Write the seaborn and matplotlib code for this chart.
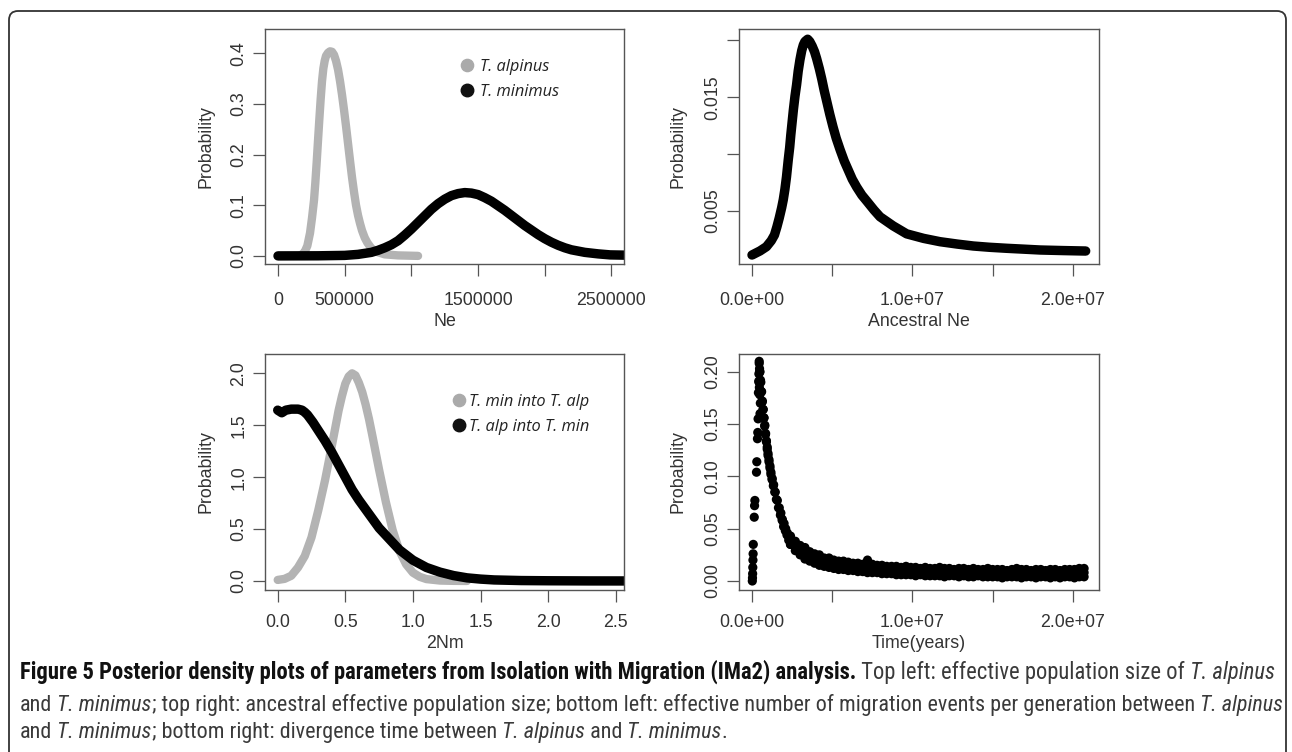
import os
import numpy as np
import matplotlib
matplotlib.use("Agg")
import matplotlib.pyplot as plt
import seaborn as sns
from matplotlib.lines import Line2D
from matplotlib.patches import FancyBboxPatch
from matplotlib.transforms import IdentityTransform
from matplotlib import font_manager as fm

# ---------------- data ----------------
# Top left: effective population size (Ne)
ne_alpinus_x = [160000, 180000, 200000, 220000, 240000, 255000, 270000, 280000, 290000,
                300000, 310000, 320000, 330000, 340000, 350000, 360000, 375000, 390000,
                405000, 420000, 435000, 450000, 465000, 480000, 495000, 510000, 525000,
                540000, 555000, 570000, 585000, 600000, 615000, 630000, 650000, 670000,
                700000, 740000, 800000, 900000, 1050000]
ne_alpinus_y = [0.000, 0.003, 0.008, 0.020, 0.045, 0.075, 0.110, 0.145, 0.185,
                0.228, 0.270, 0.310, 0.345, 0.370, 0.385, 0.395, 0.401, 0.404,
                0.403, 0.397, 0.385, 0.368, 0.345, 0.318, 0.288, 0.256, 0.222,
                0.188, 0.155, 0.126, 0.100, 0.080, 0.064, 0.050, 0.036, 0.026,
                0.015, 0.008, 0.003, 0.001, 0.000]
ne_minimus_x = [0, 300000, 500000, 600000, 700000, 750000, 800000, 850000, 900000, 950000,
                1000000, 1050000, 1100000, 1150000, 1200000, 1250000, 1300000, 1350000,
                1400000, 1450000, 1500000, 1550000, 1600000, 1650000, 1700000, 1750000,
                1800000, 1850000, 1900000, 1950000, 2000000, 2050000, 2100000, 2150000,
                2200000, 2300000, 2400000, 2490000, 2700000]
ne_minimus_y = [0.0, 0.0002, 0.001, 0.003, 0.007, 0.011, 0.016, 0.022, 0.030, 0.041,
                0.053, 0.066, 0.079, 0.092, 0.103, 0.112, 0.119, 0.123,
                0.125, 0.124, 0.121, 0.115, 0.108, 0.099, 0.090, 0.080,
                0.070, 0.060, 0.051, 0.042, 0.034, 0.027, 0.021, 0.016,
                0.012, 0.007, 0.004, 0.002, 0.001]

# Top right: ancestral Ne (x in millions)
anc_ne_x_m = [0.0, 0.5, 0.9, 1.2, 1.4, 1.55, 1.7, 1.85, 1.95, 2.05, 2.15, 2.26, 2.35, 2.42,
              2.5, 2.58, 2.68, 2.78, 2.88, 2.99, 3.1, 3.2, 3.3, 3.47, 3.6, 3.75, 3.9, 4.03,
              4.2, 4.35, 4.5, 4.65, 4.85, 5.05, 5.25, 5.49, 5.75, 6.0, 6.25, 6.53, 6.85,
              7.2, 7.6, 7.98, 8.8, 9.64, 10.7, 11.72, 12.8, 13.8, 14.8, 15.88, 17.0,
              17.96, 19.4, 20.8]
anc_ne_y = [0.00114, 0.0015, 0.00187, 0.0024, 0.0029, 0.0036, 0.0044, 0.0053, 0.0060,
            0.0069, 0.0080, 0.0095, 0.0106, 0.0117, 0.0128, 0.0139, 0.0151, 0.0161,
            0.0173, 0.0183, 0.0191, 0.0196, 0.0199, 0.0201, 0.0199, 0.0195, 0.0190,
            0.0184, 0.0175, 0.0166, 0.0156, 0.0147, 0.0135, 0.0124, 0.0114, 0.0104,
            0.0094, 0.0086, 0.0078, 0.0071, 0.0064, 0.0058, 0.0051, 0.0045, 0.0037,
            0.0030, 0.0026, 0.00231, 0.0021, 0.00193, 0.00182, 0.00173, 0.00165,
            0.00158, 0.00153, 0.00149]

# Bottom left: 2Nm
nm_min_into_alp_x = [0.00, 0.05, 0.10, 0.15, 0.20, 0.25, 0.30, 0.35, 0.40, 0.425, 0.45,
                     0.475, 0.50, 0.525, 0.55, 0.575, 0.60, 0.625, 0.65, 0.675, 0.70,
                     0.75, 0.80, 0.85, 0.90, 0.95, 1.00, 1.05, 1.10, 1.20, 1.30, 1.40]
nm_min_into_alp_y = [0.01, 0.02, 0.05, 0.13, 0.24, 0.42, 0.68, 0.97, 1.30, 1.47, 1.64,
                     1.78, 1.90, 1.97, 2.00, 1.98, 1.91, 1.82, 1.70, 1.56, 1.40,
                     1.07, 0.76, 0.49, 0.29, 0.16, 0.08, 0.04, 0.018, 0.004, 0.001, 0.0]
nm_alp_into_min_x = [0.00, 0.03, 0.06, 0.10, 0.15, 0.18, 0.20, 0.22, 0.24, 0.26, 0.28,
                     0.30, 0.35, 0.40, 0.45, 0.50, 0.55, 0.60, 0.65, 0.70, 0.75, 0.80,
                     0.85, 0.90, 0.95, 1.00, 1.10, 1.20, 1.30, 1.40, 1.50, 1.60, 1.80,
                     2.00, 2.30, 2.70]
nm_alp_into_min_y = [1.645, 1.62, 1.645, 1.655, 1.655, 1.645, 1.625, 1.60, 1.565, 1.53, 1.49,
                     1.45, 1.35, 1.24, 1.12, 1.00, 0.88, 0.78, 0.69, 0.60, 0.51, 0.44,
                     0.37, 0.30, 0.25, 0.20, 0.13, 0.085, 0.052, 0.030, 0.018, 0.010, 0.004,
                     0.002, 0.0005, 0.0]

# Bottom right: divergence time (x in millions of years)
rise_x_m = [0.02, 0.03, 0.04, 0.05, 0.06, 0.07, 0.08, 0.14, 0.16, 0.18, 0.28, 0.30, 0.34,
            0.36, 0.38, 0.40, 0.42, 0.43, 0.45, 0.47, 0.44, 0.46, 0.49, 0.52, 0.50]
rise_y = [0.000, 0.003, 0.007, 0.013, 0.020, 0.026, 0.035, 0.061, 0.072, 0.077, 0.104,
          0.114, 0.136, 0.142, 0.155, 0.180, 0.191, 0.198, 0.208, 0.200, 0.190, 0.185,
          0.178, 0.170, 0.160]
decay_hi_x_m = [0.45, 0.50, 0.55, 0.60, 0.65, 0.70, 0.75, 0.80, 0.85, 0.90, 0.95, 1.00,
                1.06, 1.12, 1.18, 1.26, 1.35, 1.45, 1.58, 1.70, 1.80, 1.89, 2.00, 2.10,
                2.20, 2.31]
decay_hi = [0.210, 0.200, 0.190, 0.181, 0.172, 0.164, 0.156, 0.149, 0.141, 0.134, 0.128,
            0.122, 0.116, 0.110, 0.104, 0.098, 0.092, 0.085, 0.077, 0.070, 0.065, 0.059,
            0.055, 0.050, 0.046, 0.042]
decay_lo_x_m = [0.47, 0.53, 0.58, 0.63, 0.69, 0.74, 0.79, 0.84, 0.90, 0.95, 1.00, 1.06,
                1.12, 1.18, 1.25, 1.33, 1.42, 1.52, 1.65, 1.77, 1.88, 1.97, 2.08, 2.18,
                2.29, 2.40]
decay_lo = [0.203, 0.192, 0.181, 0.171, 0.164, 0.156, 0.148, 0.140, 0.133, 0.126, 0.120,
            0.114, 0.108, 0.102, 0.097, 0.091, 0.085, 0.078, 0.070, 0.063, 0.058, 0.052,
            0.048, 0.044, 0.039, 0.035]
tail_x_m = [2.4, 2.7, 3.0, 3.3, 3.6, 3.9, 4.2, 4.5, 4.8, 5.1, 5.4, 5.7, 6.0, 6.3, 6.6, 6.9,
            7.2, 7.5, 7.8, 8.1, 8.4, 8.7, 9.0, 9.3, 9.6, 9.9, 10.2, 10.5, 10.8, 11.1, 11.4,
            11.7, 12.0, 12.3, 12.6, 12.9, 13.2, 13.5, 13.8, 14.1, 14.4, 14.7, 15.0, 15.3,
            15.6, 15.9, 16.2, 16.5, 16.8, 17.1, 17.4, 17.7, 18.0, 18.3, 18.6, 18.9, 19.2,
            19.5, 19.8, 20.1, 20.4, 20.7]
tail_hi = [0.043, 0.038, 0.034, 0.032, 0.028, 0.026, 0.025, 0.022, 0.022, 0.020, 0.019,
           0.019, 0.018, 0.017, 0.017, 0.016, 0.020, 0.016, 0.015, 0.015, 0.014, 0.014,
           0.014, 0.013, 0.014, 0.013, 0.013, 0.012, 0.013, 0.012, 0.012, 0.013, 0.012,
           0.012, 0.011, 0.012, 0.012, 0.011, 0.012, 0.011, 0.011, 0.012, 0.011, 0.011,
           0.011, 0.010, 0.011, 0.012, 0.011, 0.011, 0.010, 0.011, 0.011, 0.010, 0.011,
           0.011, 0.010, 0.011, 0.011, 0.011, 0.012, 0.012]
tail_mid = [0.039, 0.034, 0.030, 0.027, 0.024, 0.022, 0.020, 0.019, 0.018, 0.016, 0.016,
            0.015, 0.014, 0.014, 0.013, 0.013, 0.012, 0.012, 0.011, 0.011, 0.011, 0.010,
            0.010, 0.010, 0.010, 0.009, 0.009, 0.009, 0.009, 0.009, 0.009, 0.008, 0.008,
            0.009, 0.008, 0.008, 0.008, 0.008, 0.008, 0.008, 0.008, 0.007, 0.008, 0.008,
            0.007, 0.008, 0.007, 0.008, 0.007, 0.008, 0.007, 0.007, 0.008, 0.007, 0.007,
            0.008, 0.007, 0.007, 0.008, 0.007, 0.008, 0.008]
tail_lo = [0.035, 0.029, 0.025, 0.021, 0.019, 0.017, 0.015, 0.014, 0.013, 0.012, 0.011,
           0.011, 0.010, 0.010, 0.009, 0.009, 0.008, 0.008, 0.008, 0.007, 0.007, 0.007,
           0.006, 0.006, 0.006, 0.006, 0.005, 0.006, 0.005, 0.005, 0.005, 0.005, 0.004,
           0.005, 0.005, 0.004, 0.005, 0.004, 0.004, 0.005, 0.004, 0.004, 0.004, 0.004,
           0.003, 0.004, 0.004, 0.004, 0.003, 0.004, 0.004, 0.003, 0.004, 0.004, 0.003,
           0.004, 0.003, 0.004, 0.004, 0.003, 0.004, 0.004]

# Ticks / labels
tl_xticks = [0, 500000, 1000000, 1500000, 2000000, 2500000]
tl_xlabels = ["0", "500000", "", "1500000", "", "2500000"]
tl_yticks = [0.0, 0.1, 0.2, 0.3, 0.4]
tl_ylabels = ["0.0", "0.1", "0.2", "0.3", "0.4"]
big_xticks = [0, 5e6, 1e7, 1.5e7, 2e7]
big_xlabels = ["0.0e+00", "", "1.0e+07", "", "2.0e+07"]
tr_yticks = [0.005, 0.010, 0.015, 0.020]
tr_ylabels = ["0.005", "", "0.015", ""]
bl_xticks = [0.0, 0.5, 1.0, 1.5, 2.0, 2.5]
bl_xlabels = ["0.0", "0.5", "1.0", "1.5", "2.0", "2.5"]
bl_yticks = [0.0, 0.5, 1.0, 1.5, 2.0]
bl_ylabels = ["0.0", "0.5", "1.0", "1.5", "2.0"]
br_yticks = [0.00, 0.05, 0.10, 0.15, 0.20]
br_ylabels = ["0.00", "0.05", "0.10", "0.15", "0.20"]

legend_top = ["T. alpinus", "T. minimus"]
legend_bottom = ["T. min into T. alp", "T. alp into T. min"]

# ---------------- style ----------------
sns.set_style("ticks")
plt.rcParams['font.family'] = ['Liberation Sans', 'DejaVu Sans']

W, H = 1292, 752
fig = plt.figure(figsize=(W / 100, H / 100), dpi=100)
fig.patch.set_facecolor("white")

GRAY = "#b3b3b3"
BLACK = "#000000"
AX_COL = "#555555"
TXT_COL = "#333333"
TICK_FS = 12.8


def rect(l, t, r, b):
    return [l / W, 1 - b / H, (r - l) / W, (b - t) / H]


def style_axes(ax, box, xlim, ylim, xt, xl, yt, yl, xlabel, xlab_y, ylab_x, xpad, ypad):
    l, t, r, b = box
    ax.set_xlim(xlim)
    ax.set_ylim(ylim)
    ax.set_xticks(xt, xl)
    ax.set_yticks(yt, yl, rotation=90, va='center')
    for s in ax.spines.values():
        s.set_visible(True)
        s.set_color(AX_COL)
        s.set_linewidth(1.0)
    ax.tick_params(axis='both', direction='out', length=8.5, width=0.9, color=AX_COL,
                   labelsize=TICK_FS, labelcolor=TXT_COL)
    ax.tick_params(axis='x', pad=xpad)
    ax.tick_params(axis='y', pad=ypad)
    ax.set_xlabel(xlabel, fontsize=TICK_FS, color=TXT_COL, va='center')
    ax.set_ylabel("Probability", fontsize=TICK_FS, color=TXT_COL, va='center')
    ax.xaxis.set_label_coords(0.5, (b - xlab_y) / (b - t))
    ax.yaxis.set_label_coords((ylab_x - l) / (r - l), 0.5)


def add_legend(ax, labels, x, y, pad):
    handles = [
        Line2D([], [], marker='o', linestyle='none', markersize=8.8,
               markerfacecolor='#aaaaaa', markeredgecolor='#aaaaaa'),
        Line2D([], [], marker='o', linestyle='none', markersize=9.0,
               markerfacecolor='#111111', markeredgecolor='#111111'),
    ]
    ax.legend(handles, labels, loc='upper left', bbox_to_anchor=(x, y), frameon=False,
              borderpad=0, borderaxespad=0, handlelength=0.8, handletextpad=pad,
              labelspacing=0.55, labelcolor='#222222',
              prop={'family': ['Open Sans', 'DejaVu Sans'], 'style': 'italic', 'size': 11.8})


LW_G = 6.0
LW_B = 6.8
line_kw = dict(solid_capstyle='round', solid_joinstyle='round')

# ---- top left ----
box_tl = (265, 29, 624, 264)
ax1 = fig.add_axes(rect(*box_tl))
sns.lineplot(x=ne_alpinus_x, y=ne_alpinus_y, ax=ax1, color=GRAY, linewidth=LW_G,
             estimator=None, sort=False, **line_kw)
sns.lineplot(x=ne_minimus_x, y=ne_minimus_y, ax=ax1, color=BLACK, linewidth=LW_B,
             estimator=None, sort=False, **line_kw)
style_axes(ax1, box_tl, (-97500, 2594000), (-0.016, 0.448), tl_xticks, tl_xlabels,
           tl_yticks, tl_ylabels, "Ne", 321, 206, 12.0, 4.3)
add_legend(ax1, legend_top, (460.7 - 265) / 359, 1 - (59.0 - 29) / 235, 0.40)

# ---- top right ----
box_tr = (739, 29, 1099, 264)
ax2 = fig.add_axes(rect(*box_tr))
sns.lineplot(x=np.array(anc_ne_x_m) * 1e6, y=anc_ne_y, ax=ax2, color=BLACK, linewidth=LW_B,
             estimator=None, sort=False, **line_kw)
style_axes(ax2, box_tr, (-810000, 21630000), (0.00035, 0.0210), big_xticks, big_xlabels,
           tr_yticks, tr_ylabels, "Ancestral Ne", 321, 678, 12.0, 4.3)

# ---- bottom left ----
box_bl = (265, 354, 624, 590)
ax3 = fig.add_axes(rect(*box_bl))
sns.lineplot(x=nm_min_into_alp_x, y=nm_min_into_alp_y, ax=ax3, color=GRAY, linewidth=LW_G,
             estimator=None, sort=False, **line_kw)
sns.lineplot(x=nm_alp_into_min_x, y=nm_alp_into_min_y, ax=ax3, color=BLACK, linewidth=LW_B,
             estimator=None, sort=False, **line_kw)
style_axes(ax3, box_bl, (-0.094, 2.561), (-0.087, 2.186), bl_xticks, bl_xlabels,
           bl_yticks, bl_ylabels, "2Nm", 644, 206, 8.5, 4.3)
add_legend(ax3, legend_bottom, (452.7 - 265) / 359, 1 - (394.0 - 354) / 236, 0.22)

# ---- bottom right ----
box_br = (739, 354, 1099, 590)
ax4 = fig.add_axes(rect(*box_br))
sx = np.concatenate([rise_x_m, decay_hi_x_m, decay_lo_x_m, tail_x_m, tail_x_m, tail_x_m]) * 1e6
sy = np.concatenate([rise_y, decay_hi, decay_lo, tail_hi, tail_mid, tail_lo])
sns.scatterplot(x=sx, y=sy, ax=ax4, color=BLACK, s=44, linewidth=0, edgecolor='none')
style_axes(ax4, box_br, (-810000, 21630000), (-0.0086, 0.217), big_xticks, big_xlabels,
           br_yticks, br_ylabels, "Time(years)", 644, 678, 8.5, 4.3)

# ---- outer frame ----
frame = FancyBboxPatch((9, -30), 1286 - 9, (H - 11) + 30,
                       boxstyle="round,pad=0,rounding_size=9",
                       transform=IdentityTransform(), facecolor='none',
                       edgecolor='#333333', linewidth=1.3)
fig.add_artist(frame)


# ---- caption ----
def has_font(name):
    try:
        fm.findfont(fm.FontProperties(family=name), fallback_to_default=False)
        return True
    except Exception:
        return False


def pick_caption_font():
    for name in ['Liberation Sans Narrow', 'Noto Sans Condensed', 'Roboto Condensed',
                 'Open Sans Condensed', 'Arial Narrow']:
        if has_font(name):
            return dict(family=[name, 'DejaVu Sans'])
    for fam in ['Noto Sans', 'Roboto', 'Open Sans']:
        try:
            p = fm.findfont(fm.FontProperties(family=fam, stretch='condensed'),
                            fallback_to_default=False)
            if 'ondensed' in os.path.basename(p):
                return dict(family=[fam, 'DejaVu Sans'], fontstretch='condensed')
        except Exception:
            pass
    return dict(family=['Liberation Sans', 'DejaVu Sans'])


cap_font = pick_caption_font()

BOLD_COL = '#111111'
REG_COL = '#3a3a3a'
cap_lines = [
    [("Figure 5 Posterior density plots of parameters from Isolation with Migration (IMa2) analysis.", 'bold', 'normal', BOLD_COL),
     (" Top left: effective population size of", 'normal', 'normal', REG_COL),
     (" T. alpinus", 'normal', 'italic', REG_COL)],
    [("and", 'normal', 'normal', REG_COL),
     (" T. minimus", 'normal', 'italic', REG_COL),
     ("; top right: ancestral effective population size; bottom left: effective number of migration events per generation between", 'normal', 'normal', REG_COL),
     (" T. alpinus", 'normal', 'italic', REG_COL)],
    [("and", 'normal', 'normal', REG_COL),
     (" T. minimus", 'normal', 'italic', REG_COL),
     ("; bottom right: divergence time between", 'normal', 'normal', REG_COL),
     (" T. alpinus", 'normal', 'italic', REG_COL),
     (" and", 'normal', 'normal', REG_COL),
     (" T. minimus", 'normal', 'italic', REG_COL),
     (".", 'normal', 'normal', REG_COL)],
]
renderer = fig.canvas.get_renderer()


def draw_runs(x0, y, runs, size, keep=True):
    x = x0
    for txt, weight, style, color in runs:
        t = fig.text(x / W, 1 - y / H, txt, fontsize=size, fontweight=weight,
                     fontstyle=style, color=color, va='baseline', ha='left', **cap_font)
        x += t.get_window_extent(renderer).width
        if not keep:
            t.remove()
    return x - x0


base = 12.0
target = 1260.0
w1 = draw_runs(20, 0, cap_lines[0], base, keep=False)
w2 = draw_runs(20, 0, cap_lines[1], base, keep=False)
size1 = base * target / w1
size2 = base * target / w2
for runs, yb, sz in zip(cap_lines, [679, 711, 738], [size1, size2, size2]):
    draw_runs(20, yb, runs, sz)

fig.savefig("out.png", dpi=100, facecolor="white")
